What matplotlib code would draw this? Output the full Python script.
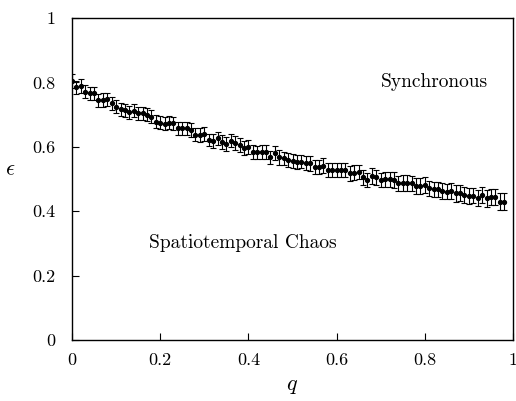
import matplotlib
matplotlib.use('Agg')
import matplotlib.pyplot as plt
import numpy as np

plt.rcParams.update({
    'font.family': 'cmr10', 'mathtext.fontset': 'cm',
    'axes.formatter.use_mathtext': True, 'font.size': 12,
})

# q from 0 to 0.98 in steps of 0.01
q = np.arange(99) / 100.0
eps = [0.804, 0.785, 0.789, 0.771, 0.766, 0.766, 0.745, 0.745, 0.747, 0.735,
       0.725, 0.716, 0.714, 0.707, 0.712, 0.704, 0.704, 0.699, 0.694, 0.678,
       0.675, 0.671, 0.675, 0.673, 0.657, 0.657, 0.657, 0.652, 0.637, 0.637,
       0.640, 0.621, 0.618, 0.626, 0.616, 0.609, 0.619, 0.611, 0.606, 0.595,
       0.600, 0.585, 0.583, 0.585, 0.585, 0.567, 0.580, 0.567, 0.564, 0.559,
       0.557, 0.554, 0.554, 0.549, 0.549, 0.538, 0.538, 0.541, 0.528, 0.528,
       0.528, 0.528, 0.528, 0.518, 0.520, 0.523, 0.505, 0.497, 0.509, 0.505,
       0.497, 0.499, 0.499, 0.497, 0.487, 0.487, 0.487, 0.487, 0.478, 0.478,
       0.481, 0.471, 0.468, 0.468, 0.463, 0.461, 0.463, 0.455, 0.457, 0.450,
       0.448, 0.448, 0.440, 0.450, 0.440, 0.445, 0.445, 0.430, 0.430]
err = [0.021, 0.020, 0.021, 0.020, 0.020, 0.021, 0.020, 0.021, 0.020, 0.021,
       0.020, 0.021, 0.020, 0.021, 0.020, 0.021, 0.021, 0.020, 0.021, 0.020,
       0.021, 0.020, 0.021, 0.020, 0.021, 0.020, 0.021, 0.021, 0.020, 0.021,
       0.021, 0.020, 0.021, 0.021, 0.022, 0.021, 0.021, 0.022, 0.021, 0.022,
       0.021, 0.022, 0.021, 0.022, 0.022, 0.021, 0.022, 0.022, 0.021, 0.022,
       0.022, 0.022, 0.021, 0.022, 0.023, 0.022, 0.022, 0.023, 0.022, 0.023,
       0.022, 0.023, 0.022, 0.023, 0.023, 0.022, 0.023, 0.023, 0.024, 0.023,
       0.023, 0.024, 0.023, 0.024, 0.023, 0.024, 0.024, 0.023, 0.024, 0.024,
       0.024, 0.023, 0.024, 0.024, 0.025, 0.024, 0.024, 0.025, 0.024, 0.025,
       0.025, 0.024, 0.025, 0.025, 0.026, 0.025, 0.025, 0.026, 0.026]

fig = plt.figure(figsize=(5.16, 4.01), dpi=100)
ax = fig.add_axes([72 / 516, 61 / 401, 441 / 516, 322 / 401])

ax.errorbar(q, eps, yerr=err, fmt='o', color='black', ms=2.8,
            elinewidth=0.8, capsize=2.5, capthick=0.8, ecolor='black')

ax.set_xlim(0, 1)
ax.set_ylim(0, 1)
ax.set_xticks([0, 0.2, 0.4, 0.6, 0.8, 1])
ax.set_yticks([0, 0.2, 0.4, 0.6, 0.8, 1])
ax.set_xticklabels(['0', '0.2', '0.4', '0.6', '0.8', '1'])
ax.set_yticklabels(['0', '0.2', '0.4', '0.6', '0.8', '1'])
ax.tick_params(direction='in', length=5, width=0.8, labelsize=13)
ax.tick_params(axis='x', pad=9)
ax.tick_params(axis='y', pad=12)
for s in ax.spines.values():
    s.set_linewidth(1.0)

ax.set_xlabel(r'$q$', fontsize=16, labelpad=6)
ax.set_ylabel(r'$\epsilon$', fontsize=16, rotation=0, labelpad=16)

ax.text(0.70, 0.80, 'Synchronous', ha='left', va='center', fontsize=14)
ax.text(0.175, 0.30, 'Spatiotemporal Chaos', ha='left', va='center', fontsize=14)

fig.savefig('out.png', dpi=100)
